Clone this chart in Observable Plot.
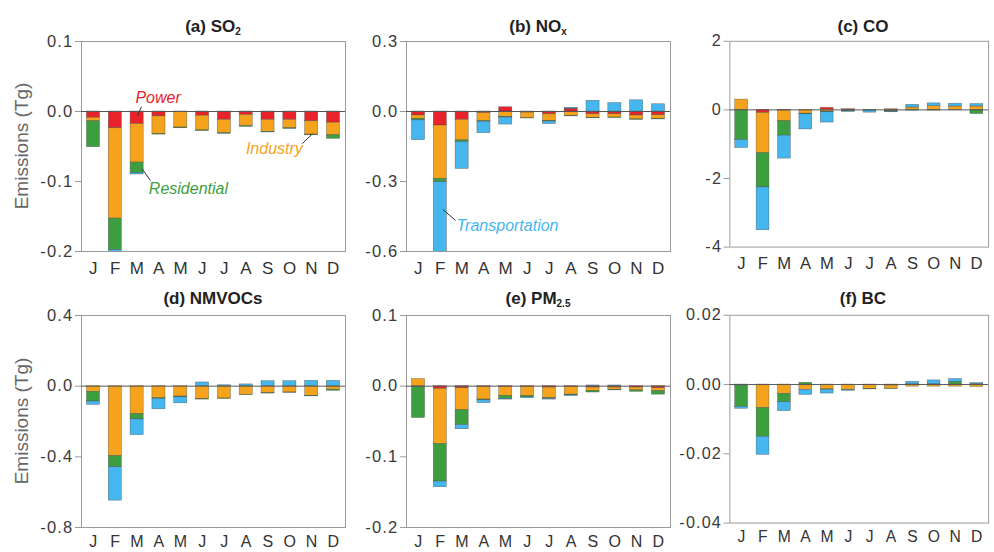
<!DOCTYPE html>
<html>
<head>
<meta charset="utf-8">
<script src="https://cdn.jsdelivr.net/npm/d3@7"></script>
<script src="https://cdn.jsdelivr.net/npm/@observablehq/plot@0.6"></script>
<style>
  html, body { margin: 0; padding: 0; background: #fff; }
  #chart { position: relative; width: 994px; height: 552px; overflow: hidden; font-family: "Liberation Sans", Arial, sans-serif; }
  .panel { position: absolute; }
  .title { position: absolute; width: 264px; text-align: center; font-weight: bold; font-size: 17px; line-height: 20px; color: #222; }
  .title sub { font-size: 10px; vertical-align: -3px; }
  .ylab { position: absolute; width: 200px; text-align: center; font-size: 19px; line-height: 22px; color: #666; transform: rotate(-90deg); transform-origin: center center; }
  svg [aria-label="y-axis tick label"] text { letter-spacing: 1.2px; }
  svg [aria-label="x-axis tick label"] text { letter-spacing: 0.5px; }
</style>
</head>
<body>
<div id="chart"></div>
<script>
const months = ["J","F","M","A","M","J","J","A","S","O","N","D"];
const sectors = ["Power","Industry","Residential","Transportation"];
const sectorColors = ["#e8232a","#f5a31c","#3d9e40","#45b6ee"];

// rows: Power, Industry, Residential, Transportation (Tg)
const SO2 = [
  [-0.009,-0.024,-0.018,-0.007,-0.001,-0.006,-0.012,-0.005,-0.012,-0.012,-0.014,-0.016],
  [-0.005,-0.129,-0.055,-0.025,-0.022,-0.021,-0.019,-0.016,-0.017,-0.012,-0.019,-0.018],
  [-0.037,-0.045,-0.015,-0.001,-0.001,-0.001,-0.001,-0.001,-0.001,-0.001,-0.001,-0.005],
  [0,-0.003,-0.002,0,0,0,0,0,0,0,0,0]
];
const NOx = [
  [-0.017,-0.060,-0.036,-0.007,0.018,-0.005,-0.012,0.012,-0.012,-0.012,-0.017,-0.016],
  [-0.014,-0.229,-0.088,-0.034,-0.024,-0.024,-0.029,-0.019,-0.015,-0.014,-0.017,-0.016],
  [-0.007,-0.014,-0.007,-0.003,-0.002,-0.001,-0.002,-0.002,-0.002,-0.002,-0.002,-0.002],
  [-0.085,-0.310,-0.115,-0.049,-0.030,0,-0.011,0.004,0.046,0.036,0.048,0.031]
];
const CO = [
  [0,-0.09,-0.02,-0.01,0.06,0.02,0,-0.03,0,0,0,0],
  [0.30,-1.17,-0.31,-0.10,-0.05,-0.02,0,0.02,0.07,0.11,0.10,0.10],
  [-0.88,-1.00,-0.42,-0.02,-0.02,-0.02,-0.02,-0.02,-0.02,-0.02,-0.01,-0.12],
  [-0.23,-1.25,-0.67,-0.44,-0.30,-0.02,-0.06,-0.02,0.08,0.08,0.08,0.07]
];
const NMVOC = [
  [0,0,0,0,0,0,0,0,0,0,0,0],
  [-0.032,-0.396,-0.159,-0.068,-0.059,-0.074,-0.070,-0.049,-0.040,-0.036,-0.055,-0.020],
  [-0.055,-0.063,-0.029,-0.004,-0.004,-0.002,-0.002,-0.002,-0.002,-0.002,-0.003,-0.006],
  [-0.019,-0.189,-0.089,-0.059,-0.034,0.021,0.005,0.010,0.028,0.028,0.030,0.030]
];
const PM25 = [
  [-0.001,-0.004,-0.003,-0.001,-0.001,-0.001,-0.002,-0.001,-0.002,-0.002,-0.002,-0.003],
  [0.010,-0.078,-0.031,-0.018,-0.013,-0.013,-0.015,-0.011,-0.005,-0.003,-0.004,-0.004],
  [-0.044,-0.053,-0.021,-0.001,-0.004,-0.002,-0.001,-0.001,-0.002,-0.001,-0.002,-0.005],
  [0,-0.008,-0.006,-0.004,-0.001,-0.001,-0.001,-0.001,0.001,0.001,0,0]
];
const BC = [
  [0,0,0,0,0,0,-0.0001,-0.0003,0,0,0,0],
  [-0.0003,-0.0068,-0.0027,-0.0015,-0.0014,-0.0015,-0.0012,-0.0009,-0.0006,-0.0006,-0.0006,-0.0007],
  [-0.0062,-0.0083,-0.0024,0.0005,-0.0001,-0.0001,-0.0001,-0.0001,0.0001,0.0001,0.0008,0.0001],
  [-0.0005,-0.0052,-0.0026,-0.0015,-0.0011,-0.0002,0,0,0.0007,0.0011,0.0008,0.0003]
];

// annotation labels (data coordinates: month index, Tg)
const labelsA = [
  {label: "Power", sector: "Power", x: 3.96, y: 0.02},
  {label: "Industry", sector: "Industry", x: 9.29, y: -0.053},
  {label: "Residential", sector: "Residential", x: 5.35, y: -0.11}
];
const leadersA = [
  {x1: 3.2, y1: 0.007, x2: 3.02, y2: -0.006},
  {x1: 10.57, y1: -0.046, x2: 11.03, y2: -0.032},
  {x1: 3.61, y1: -0.0986, x2: 3.23, y2: -0.0819}
];
const labelsB = [{label: "Transportation", sector: "Transportation", x: 5.08, y: -0.489}];
const leadersB = [{x1: 2.70, y1: -0.467, x2: 2.13, y2: -0.421}];

const panels = [
  {title: "(a) SO<sub>2</sub>", values: SO2, domain: [-0.2, 0.1], ticks: [-0.2, -0.1, 0, 0.1], digits: 1, col: 0, row: 0, labels: labelsA, leaders: leadersA},
  {title: "(b) NO<sub>x</sub>", values: NOx, domain: [-0.6, 0.3], ticks: [-0.6, -0.3, 0, 0.3], digits: 1, col: 1, row: 0, labels: labelsB, leaders: leadersB},
  {title: "(c) CO", values: CO, domain: [-4, 2], ticks: [-4, -2, 0, 2], digits: 0, col: 2, row: 0},
  {title: "(d) NMVOCs", values: NMVOC, domain: [-0.8, 0.4], ticks: [-0.8, -0.4, 0, 0.4], digits: 1, col: 0, row: 1},
  {title: "(e) PM<sub>2.5</sub>", values: PM25, domain: [-0.2, 0.1], ticks: [-0.2, -0.1, 0, 0.1], digits: 1, col: 1, row: 1},
  {title: "(f) BC", values: BC, domain: [-0.04, 0.02], ticks: [-0.04, -0.02, 0, 0.02], digits: 2, col: 2, row: 1}
];

const colLefts = [81, 406, 731];
const rows = [
  {top: 41, h: 210, titleTop: 17, padX: 10, mB: 30, xFont: 17, labCenter: 146},
  {top: 315, h: 212, titleTop: 289, padX: 8, mB: 25, xFont: 16, labCenter: 421}
];
const frameW = 264, mL = 81, mR = 6, mT = 10;

const chart = document.getElementById("chart");

for (const p of panels) {
  const r = rows[p.row];
  const left = colLefts[p.col];
  const data = [];
  sectors.forEach((s, si) => months.forEach((m, mi) => {
    const v = p.values[si][mi];
    if (v !== 0) data.push({sector: s, m: mi + 1, v});
  }));
  const marks = [
    Plot.frame({stroke: "#9a9a9a"}),
    Plot.axisY({ticks: p.ticks, tickFormat: d => d.toFixed(p.digits), tickSize: 6, tickPadding: 2, fontSize: 16.5, stroke: "#9a9a9a", fill: "#3a3a3a", label: null}),
    Plot.axisX({ticks: d3.range(1, 13), tickFormat: i => months[i - 1], tickSize: 0, tickPadding: r.padX, fontSize: r.xFont, fill: "#333", label: null}),
    Plot.rectY(data, {x1: d => d.m - 0.3, x2: d => d.m + 0.3, y: "v", fill: "sector", stroke: "#444", strokeWidth: 0.5, strokeOpacity: 0.7, clip: true}),
    Plot.ruleY([0], {stroke: "#555", strokeWidth: 1})
  ];
  if (p.leaders) marks.push(Plot.link(p.leaders, {x1: "x1", y1: "y1", x2: "x2", y2: "y2", stroke: "#333", strokeWidth: 1}));
  if (p.labels) marks.push(Plot.text(p.labels, {x: "x", y: "y", text: "label", fill: "sector", fontSize: 16, fontStyle: "italic"}));

  const svg = Plot.plot({
    width: mL + frameW + mR,
    height: mT + r.h + r.mB,
    marginLeft: mL, marginRight: mR, marginTop: mT, marginBottom: r.mB,
    style: {fontFamily: "'Liberation Sans', Arial, sans-serif", background: "transparent", overflow: "visible"},
    x: {type: "linear", domain: [0.45, 12.55]},
    y: {domain: p.domain},
    color: {domain: sectors, range: sectorColors},
    marks
  });
  const wrap = document.createElement("div");
  wrap.className = "panel";
  wrap.style.left = (left - mL) + "px";
  wrap.style.top = (r.top - mT) + "px";
  wrap.appendChild(svg);
  chart.appendChild(wrap);

  const t = document.createElement("div");
  t.className = "title";
  t.innerHTML = p.title;
  t.style.left = left + "px";
  t.style.top = r.titleTop + "px";
  chart.appendChild(t);

  if (p.col === 0) {
    const yl = document.createElement("div");
    yl.className = "ylab";
    yl.textContent = "Emissions (Tg)";
    yl.style.left = (22 - 100) + "px";
    yl.style.top = (r.labCenter - 11) + "px";
    chart.appendChild(yl);
  }
}
</script>
</body>
</html>
